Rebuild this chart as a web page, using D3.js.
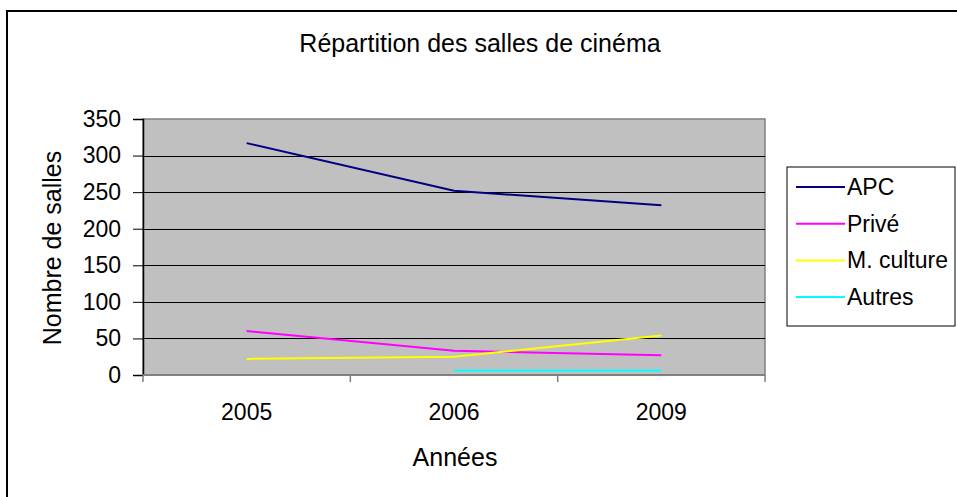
<!DOCTYPE html>
<html>
<head>
<meta charset="utf-8">
<script src="https://cdn.jsdelivr.net/npm/d3@7"></script>
<style>
  html, body { margin: 0; padding: 0; background: #fff; }
  svg { display: block; font-family: "Liberation Sans", Arial, sans-serif; }
</style>
</head>
<body>
<svg id="chart" width="957" height="497"></svg>
<script>
// Cinema halls by owner type
const years = ["2005", "2006", "2009"];
const apc = [317, 252, 232];
const prive = [60, 33, 27];
const mCulture = [22, 25, 54];
const autres = [null, 6, 6];
const seriesNames = ["APC", "Privé", "M. culture", "Autres"];
const seriesColors = ["#000080", "#FF00FF", "#FFFF00", "#00FFFF"];
const yTicks = [0, 50, 100, 150, 200, 250, 300, 350];

const series = [apc, prive, mCulture, autres].map((vals, i) => ({
  name: seriesNames[i], color: seriesColors[i], values: vals
}));

const FONT = "Liberation Sans, Arial, sans-serif";
const svg = d3.select("#chart");

// outer chart frame
svg.append("rect")
  .attr("x", 7).attr("y", 11).attr("width", 960).attr("height", 500)
  .attr("fill", "#fff").attr("stroke", "#000").attr("stroke-width", 2);

const plot = { left: 143, top: 119, right: 765, bottom: 375 };

const x = d3.scaleBand().domain(years).range([plot.left, plot.right]).padding(0);
const y = d3.scaleLinear().domain([0, 350]).range([plot.bottom, plot.top]);

// plot background
svg.append("rect")
  .attr("x", plot.left).attr("y", plot.top)
  .attr("width", plot.right - plot.left).attr("height", plot.bottom - plot.top)
  .attr("fill", "#C0C0C0").attr("stroke", "#808080").attr("stroke-width", 1.5);

// horizontal gridlines
svg.append("g").selectAll("line")
  .data(yTicks.filter(t => t > 0 && t < 350))
  .join("line")
  .attr("x1", plot.left).attr("x2", plot.right)
  .attr("y1", d => Math.round(y(d)) + 0.5).attr("y2", d => Math.round(y(d)) + 0.5)
  .attr("stroke", "#000").attr("stroke-width", 1);

// y axis
const yAxis = svg.append("g")
  .attr("transform", `translate(${plot.left},0)`)
  .call(d3.axisLeft(y).tickValues(yTicks).tickSize(10).tickPadding(12));
yAxis.attr("font-size", null).attr("font-family", null);
yAxis.select(".domain").attr("stroke", "#000").attr("stroke-width", 1.5);
yAxis.selectAll(".tick line").attr("stroke", "#000");
yAxis.selectAll("text")
  .attr("font-size", 23).attr("fill", "#000").attr("font-family", FONT);

// x axis (ticks at category boundaries)
const xAxisG = svg.append("g").attr("transform", `translate(0,${plot.bottom})`);
xAxisG.append("line")
  .attr("x1", plot.left).attr("x2", plot.right)
  .attr("y1", 0).attr("y2", 0).attr("stroke", "#808080").attr("stroke-width", 2);
const bounds = years.map(d => x(d)).concat([plot.right]);
xAxisG.selectAll("line.tk").data(bounds).join("line").attr("class", "tk")
  .attr("x1", d => d).attr("x2", d => d).attr("y1", 0).attr("y2", 7)
  .attr("stroke", "#808080").attr("stroke-width", 1.5);
xAxisG.selectAll("text").data(years).join("text")
  .attr("x", d => x(d) + x.bandwidth() / 2).attr("y", 45)
  .attr("text-anchor", "middle").attr("font-size", 23).attr("fill", "#000")
  .text(d => d);

// axis titles
svg.append("text")
  .attr("x", (plot.left + plot.right) / 2 + 1).attr("y", 466)
  .attr("text-anchor", "middle").attr("font-size", 25).text("Années");
svg.append("text")
  .attr("transform", `translate(61,${(plot.top + plot.bottom) / 2 + 1}) rotate(-90)`)
  .attr("text-anchor", "middle").attr("font-size", 25).text("Nombre de salles");

// title
svg.append("text")
  .attr("x", 480).attr("y", 52)
  .attr("text-anchor", "middle").attr("font-size", 25).text("Répartition des salles de cinéma");

// series lines
const line = d3.line()
  .defined(d => d.v != null)
  .x(d => x(d.year) + x.bandwidth() / 2)
  .y(d => y(d.v));

svg.append("g").selectAll("path")
  .data(series)
  .join("path")
  .attr("d", s => line(s.values.map((v, i) => ({ year: years[i], v }))))
  .attr("fill", "none")
  .attr("stroke", s => s.color)
  .attr("stroke-width", 2);

// legend
const legend = svg.append("g");
legend.append("rect")
  .attr("x", 787).attr("y", 167).attr("width", 168).attr("height", 159)
  .attr("fill", "#fff").attr("stroke", "#000").attr("stroke-width", 1);
const items = legend.selectAll("g.item").data(series).join("g").attr("class", "item")
  .attr("transform", (d, i) => `translate(0,${187 + i * 36.7})`);
items.append("line")
  .attr("x1", 796).attr("x2", 845).attr("y1", 0).attr("y2", 0)
  .attr("stroke", d => d.color).attr("stroke-width", 2);
items.append("text")
  .attr("x", 847).attr("y", 8).attr("font-size", 23).text(d => d.name);
</script>
</body>
</html>
